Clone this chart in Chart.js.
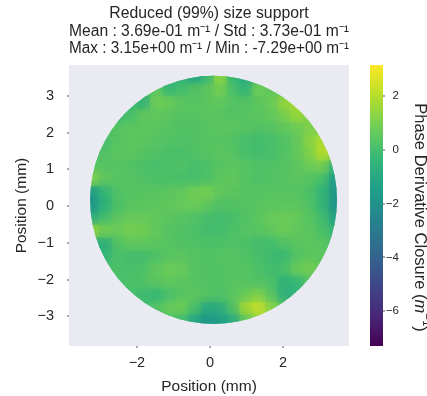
<!DOCTYPE html>
<html><head><meta charset="utf-8">
<script src="https://cdn.jsdelivr.net/npm/chart.js@4.4.0/dist/chart.umd.min.js"></script>
<style>html,body{margin:0;padding:0;background:#fff}</style>
</head><body>
<canvas id="c" width="427" height="396"></canvas>
<script>
// ---------- data ----------
const titleLines = [
  'Reduced (99%) size support',
  'Mean : 3.69e-01 m\u207B\u00B9 / Std : 3.73e-01 m\u207B\u00B9',
  'Max : 3.15e+00 m\u207B\u00B9 / Min : -7.29e+00 m\u207B\u00B9'
];
const colorbarLabel = 'Phase Derivative Closure (m\u207B\u00B9)';
const xTicks = [-2, 0, 2];
const yTicks = [-3, -2, -1, 0, 1, 2, 3];
const colorTicks = [-6, -4, -2, 0, 2];
const colorMin = -7.29;
const colorMax = 3.15;
// cell centres (mm)
const xCells = [-3.2, -2.85, -2.5, -2.15, -1.8, -1.45, -1.1, -0.75, -0.4, -0.05, 0.3, 0.65, 1.0, 1.35, 1.7, 2.05, 2.4, 2.75, 3.1, 3.45];
const yCells = [3.5, 3.15, 2.8, 2.45, 2.1, 1.75, 1.4, 1.05, 0.7, 0.35, 0.0, -0.35, -0.7, -1.05, -1.4, -1.75, -2.1, -2.45, -2.8, -3.15];
// phase derivative closure (m^-1), one row per yCells entry
const row00 = [null,null,null,null,null,0.2,0.0,-0.5,-1.3,-0.4,1.6,-0.3,-1.0,0.3,null,null,null,null,null,null];
const row01 = [null,null,null,null,0.3,0.6,-0.4,0.0,0.3,0.5,1.0,0.1,-0.5,0.9,0.6,0.4,null,null,null,null];
const row02 = [null,null,null,0.0,-0.7,0.9,0.8,0.5,0.4,0.5,0.6,0.4,0.3,0.5,0.7,1.5,1.8,null,null,null];
const row03 = [null,null,-0.2,0.1,0.6,0.6,0.5,0.4,0.4,0.5,0.4,0.3,0.4,0.5,0.6,1.0,1.6,1.2,null,null];
const row04 = [null,0.2,0.4,0.5,0.5,0.5,0.4,0.3,0.3,0.4,0.5,0.5,0.4,0.3,0.4,0.6,0.8,1.1,0.7,null];
const row05 = [0.0,0.1,0.4,0.5,0.5,0.4,0.3,0.3,0.3,0.4,0.4,0.3,0.1,0.0,0.1,0.3,0.6,1.3,1.9,null];
const row06 = [0.2,0.3,0.5,0.5,0.4,0.3,0.2,0.1,0.3,0.4,0.5,0.4,0.1,0.0,0.1,0.3,0.6,1.1,2.1,1.6];
const row07 = [0.4,0.4,0.4,0.3,0.2,0.1,0.2,0.3,0.1,0.2,0.4,0.5,0.4,0.3,0.3,0.4,0.5,0.8,1.0,-0.6];
const row08 = [1.2,0.6,0.4,0.4,0.3,0.2,0.2,0.1,0.0,0.2,0.5,0.6,0.4,0.2,0.3,0.4,0.5,0.4,0.1,-1.6];
const row09 = [-1.6,-0.3,0.3,0.4,0.4,0.4,0.5,0.6,0.9,1.0,0.6,0.5,0.4,0.4,0.4,0.4,0.4,0.2,-0.3,-1.8];
const row10 = [-1.8,-0.5,0.2,0.4,0.5,0.5,0.6,0.7,0.8,0.6,0.3,0.3,0.4,0.4,0.5,0.5,0.5,0.3,-0.3,-1.9];
const row11 = [-0.9,0.0,0.5,0.7,0.7,0.6,0.5,0.4,0.3,0.1,0.0,0.1,0.3,0.5,0.7,0.8,0.7,0.4,0.0,-1.3];
const row12 = [1.6,1.0,0.8,1.0,0.9,0.6,0.4,0.3,0.2,0.0,0.0,0.2,0.4,0.4,0.6,0.8,0.6,0.5,0.2,-0.4];
const row13 = [-0.6,-0.8,0.3,0.6,0.6,0.5,0.4,0.3,0.3,0.2,0.2,0.3,0.2,0.0,0.0,0.3,0.5,0.5,0.4,0.2];
const row14 = [null,-0.4,0.2,0.0,0.0,0.2,0.4,0.5,0.4,0.3,0.4,0.4,0.3,0.1,-0.1,-0.2,0.3,0.5,0.5,null];
const row15 = [null,0.2,0.2,0.1,0.2,0.6,0.8,0.7,0.4,0.3,0.3,0.4,0.4,0.2,0.0,0.1,0.8,1.0,0.6,null];
const row16 = [null,null,0.1,0.2,0.3,0.5,0.6,0.5,0.4,0.3,0.3,0.4,0.4,0.3,0.2,-0.5,-0.3,0.3,null,null];
const row17 = [null,null,null,0.0,-0.1,-0.3,0.1,0.4,0.5,0.4,0.3,0.5,0.7,1.1,0.4,-0.7,-0.4,null,null,null];
const row18 = [null,null,null,null,0.0,0.3,0.7,0.9,0.2,-0.9,-0.7,0.3,1.8,2.4,1.3,0.3,null,null,null,null];
const row19 = [null,null,null,null,null,null,0.3,0.0,-1.1,-1.8,-1.4,-0.9,0.5,1.3,null,null,null,null,null,null];
const valueRows = [row00,row01,row02,row03,row04,row05,row06,row07,row08,row09,row10,row11,row12,row13,row14,row15,row16,row17,row18,row19];

// support geometry (mm)
const supportX = 0.1, supportY = 0.17, supportR = 3.38;

// ---------- helpers ----------
const VIR = [[68,1,84],[72,40,120],[62,73,137],[49,104,142],[38,130,142],[31,158,137],[53,183,121],[110,206,88],[181,222,43],[253,231,37]];
function viridis(t) {
  t = Math.max(0, Math.min(1, t));
  const s = t * (VIR.length - 1);
  const i = Math.min(Math.floor(s), VIR.length - 2);
  const f = s - i, a = VIR[i], b = VIR[i + 1];
  return 'rgb(' + Math.round(a[0] + (b[0] - a[0]) * f) + ',' + Math.round(a[1] + (b[1] - a[1]) * f) + ',' + Math.round(a[2] + (b[2] - a[2]) * f) + ')';
}
const colorOf = v => viridis((v - colorMin) / (colorMax - colorMin));
const fmt = v => String(v).replace('-', '\u2212');

const cells = [];
valueRows.forEach((row, j) => row.forEach((v, i) => {
  if (v !== null) cells.push({ x: xCells[i], y: yCells[j], v: v });
}));
const cellStep = Math.abs(xCells[1] - xCells[0]);

const TXT = '#262626';
const FAMILY = "'Liberation Sans', Arial, sans-serif";
Chart.defaults.font.family = FAMILY;
Chart.defaults.color = TXT;

function cellRadius(ctx) {
  const xs = ctx.chart.scales.x;
  const px = Math.abs(xs.getPixelForValue(cellStep) - xs.getPixelForValue(0));
  return (px + 1.2) / Math.SQRT2;
}

const framePlugin = {
  id: 'frame',
  beforeDraw(chart) {
    const { ctx, width, height, chartArea: a } = chart;
    ctx.save();
    ctx.fillStyle = '#ffffff';
    ctx.fillRect(0, 0, width, height);
    ctx.fillStyle = '#EAEAF2';
    ctx.fillRect(a.left, a.top, a.right - a.left, a.bottom - a.top);
    ctx.restore();
  },
  beforeDatasetsDraw(chart) {
    const { ctx } = chart;
    const xs = chart.scales.x, ys = chart.scales.y;
    const cx = xs.getPixelForValue(supportX), cy = ys.getPixelForValue(supportY);
    const rx = Math.abs(xs.getPixelForValue(supportX + supportR) - cx);
    const ry = Math.abs(ys.getPixelForValue(supportY + supportR) - cy);
    ctx.save();
    ctx.beginPath();
    ctx.ellipse(cx, cy, rx, ry, 0, 0, Math.PI * 2);
    ctx.clip();
  },
  beforeDatasetDraw(chart, args) {
    if (args.index === 0) { chart.ctx.save(); chart.ctx.filter = 'blur(6px)'; }
  },
  afterDatasetDraw(chart, args) {
    if (args.index === 0) { chart.ctx.restore(); }
  },
  afterDatasetsDraw(chart) {
    chart.ctx.restore();
  },
  afterDraw(chart) {
    const { ctx, chartArea: a } = chart;
    const cb = chart.scales.cb, xs = chart.scales.x, ys = chart.scales.y;
    const top = cb.getPixelForValue(colorMax), bot = cb.getPixelForValue(colorMin);
    ctx.save();
    const g = ctx.createLinearGradient(0, bot, 0, top);
    VIR.forEach((c, k) => g.addColorStop(k / (VIR.length - 1), 'rgb(' + c.join(',') + ')'));
    ctx.fillStyle = g;
    ctx.fillRect(370, top, 13, bot - top);
    ctx.fillStyle = '#555';
    colorTicks.forEach(v => { const y = cb.getPixelForValue(v); ctx.fillRect(383, Math.round(y) - 0.5, 2, 1); });
    yTicks.forEach(v => { const y = ys.getPixelForValue(v); ctx.fillRect(a.left - 2, Math.round(y) - 0.5, 2, 1); });
    xTicks.forEach(v => { const x = xs.getPixelForValue(v); ctx.fillRect(Math.round(x) - 0.5, a.bottom, 1, 2); });

    // colour-bar label, rotated, with italic unit and raised exponent
    const m = colorbarLabel.indexOf('(m');
    const parts = [
      { t: colorbarLabel.slice(0, m + 1), f: '16.5px ' + FAMILY, dy: 0 },
      { t: 'm', f: 'italic 16.5px ' + FAMILY, dy: 0 },
      { t: '\u22121', f: '11.5px ' + FAMILY, dy: -6 },
      { t: ')', f: '16.5px ' + FAMILY, dy: 0 }
    ];
    let total = 0;
    parts.forEach(p => { ctx.font = p.f; p.w = ctx.measureText(p.t).width; total += p.w; });
    const cxl = 420, cyl = (top + bot) / 2 + 12;
    ctx.translate(cxl, cyl);
    ctx.rotate(Math.PI / 2);
    ctx.fillStyle = TXT;
    ctx.textBaseline = 'middle';
    ctx.textAlign = 'left';
    let xx = -total / 2;
    parts.forEach(p => { ctx.font = p.f; ctx.fillText(p.t, xx, p.dy); xx += p.w; });
    ctx.restore();
  }
};

new Chart(document.getElementById('c'), {
  type: 'scatter',
  data: {
    datasets: [
      { data: cells, pointStyle: 'rect', borderWidth: 0,
        backgroundColor: ctx => colorOf(ctx.raw.v),
        pointRadius: cellRadius, pointHoverRadius: cellRadius },
      { data: cells, pointStyle: 'rect', borderWidth: 0,
        backgroundColor: ctx => colorOf(ctx.raw.v),
        pointRadius: cellRadius, pointHoverRadius: cellRadius }
    ]
  },
  options: {
    responsive: false,
    animation: false,
    events: [],
    layout: { padding: { left: 0, top: 0, bottom: 0, right: 28 } },
    plugins: {
      legend: { display: false },
      tooltip: { enabled: false },
      title: {
        display: true,
        text: titleLines,
        fullSize: false,
        color: TXT,
        font: { size: 15.8, weight: 'normal', lineHeight: 1.11 },
        padding: { top: 5, bottom: 7.5 }
      }
    },
    scales: {
      x: {
        type: 'linear', position: 'bottom', min: -3.86, max: 3.81,
        grid: { display: false, drawTicks: false },
        border: { display: false },
        afterBuildTicks: s => { s.ticks = xTicks.map(v => ({ value: v })); },
        afterFit: s => { s.height = 50; },
        ticks: { padding: 8, font: { size: 14.5 }, color: TXT, callback: v => fmt(v) },
        title: { display: true, text: 'Position (mm)', color: TXT, font: { size: 15.5 }, padding: { top: 0, bottom: 0 } }
      },
      y: {
        type: 'linear', position: 'left', min: -3.81, max: 3.84,
        grid: { display: false, drawTicks: false },
        border: { display: false },
        afterBuildTicks: s => { s.ticks = yTicks.map(v => ({ value: v })); },
        afterFit: s => { s.width = 69; },
        ticks: { padding: 15, font: { size: 14.5 }, color: TXT, callback: v => fmt(v) },
        title: { display: true, text: 'Position (mm)', color: TXT, font: { size: 15.5 }, padding: { top: 12, bottom: 0 } }
      },
      cb: {
        type: 'linear', position: 'right', min: colorMin, max: colorMax,
        grid: { display: false, drawTicks: false },
        border: { display: false },
        afterBuildTicks: s => { s.ticks = colorTicks.map(v => ({ value: v })); },
        afterFit: s => { s.width = 50; },
        ticks: { padding: 37, crossAlign: 'far', font: { size: 11.5 }, color: TXT, callback: v => fmt(v) },
        title: { display: false }
      }
    }
  },
  plugins: [framePlugin]
});
</script>
</body></html>
